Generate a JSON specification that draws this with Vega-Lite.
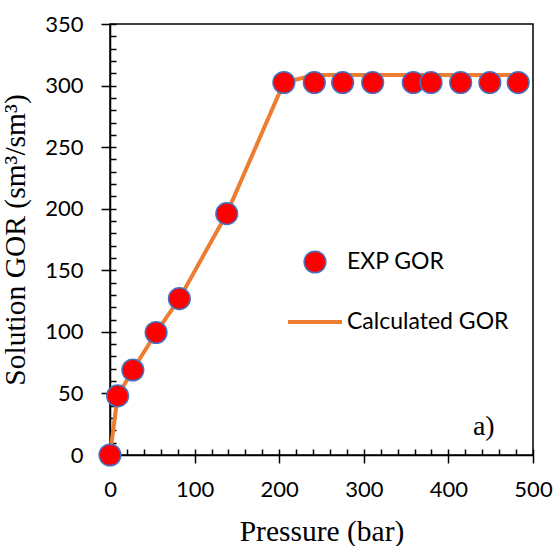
{
  "$schema": "https://vega.github.io/schema/vega-lite/v6.json",
  "width": 423,
  "height": 431,
  "autosize": "none",
  "padding": {"left": 110, "top": 24, "right": 23, "bottom": 91},
  "background": "white",
  "config": {
    "view": {"stroke": "black", "strokeWidth": 1.5},
    "axis": {
      "domainColor": "black", "domainWidth": 1.5, "ticks": true, "tickColor": "black", "tickWidth": 1.5,
      "labelFont": "Lato", "labelFontSize": 22, "labelColor": "black", "labelFlush": false, "labelOverlap": false,
      "titleFont": "Liberation Serif", "titleFontSize": 29.5, "titleFontWeight": "normal", "titleColor": "black",
      "grid": false
    }
  },
  "datasets": {
    "exp": [
      {"p": 0, "gor": 0, "series": "EXP GOR"},
      {"p": 9, "gor": 48, "series": "EXP GOR"},
      {"p": 27, "gor": 69, "series": "EXP GOR"},
      {"p": 54.5, "gor": 99.5, "series": "EXP GOR"},
      {"p": 82, "gor": 127, "series": "EXP GOR"},
      {"p": 138, "gor": 196, "series": "EXP GOR"},
      {"p": 205.5, "gor": 302.5, "series": "EXP GOR"},
      {"p": 241.5, "gor": 302.5, "series": "EXP GOR"},
      {"p": 275, "gor": 302.5, "series": "EXP GOR"},
      {"p": 310.5, "gor": 302.5, "series": "EXP GOR"},
      {"p": 358.5, "gor": 302.5, "series": "EXP GOR"},
      {"p": 379.5, "gor": 302.5, "series": "EXP GOR"},
      {"p": 414.5, "gor": 302.5, "series": "EXP GOR"},
      {"p": 449, "gor": 302.5, "series": "EXP GOR"},
      {"p": 482.5, "gor": 302.5, "series": "EXP GOR"}
    ],
    "calc": [
      {"p": 0, "gor": 0, "series": "Calculated GOR"},
      {"p": 9, "gor": 48, "series": "Calculated GOR"},
      {"p": 27, "gor": 69, "series": "Calculated GOR"},
      {"p": 54.5, "gor": 99.5, "series": "Calculated GOR"},
      {"p": 82, "gor": 127, "series": "Calculated GOR"},
      {"p": 138, "gor": 196, "series": "Calculated GOR"},
      {"p": 205.5, "gor": 302.5, "series": "Calculated GOR"},
      {"p": 242, "gor": 308.5, "series": "Calculated GOR"},
      {"p": 482.5, "gor": 308.5, "series": "Calculated GOR"}
    ],
    "note": [
      {"p": 429, "gor": 16, "t": "a)"}
    ]
  },
  "layer": [
    {
      "data": {"name": "calc"},
      "mark": {"type": "line", "strokeWidth": 4, "strokeCap": "round"},
      "encoding": {
        "x": {"field": "p", "type": "quantitative", "scale": {"domain": [0, 500], "nice": false},
              "axis": {"title": "Pressure (bar)", "orient": "bottom", "values": [0, 100, 200, 300, 400, 500], "ticks": true, "tickSize": 8, "tickColor": "black", "labelPadding": 16, "titlePadding": 17}},
        "y": {"field": "gor", "type": "quantitative", "scale": {"domain": [0, 350], "nice": false},
              "axis": {"title": "Solution GOR (sm³/sm³)", "orient": "left", "values": [0, 50, 100, 150, 200, 250, 300, 350], "ticks": true, "tickSize": 9, "tickColor": "black", "labelPadding": 18, "titlePadding": 14}},
        "stroke": {"field": "series", "type": "nominal",
                  "scale": {"domain": ["Calculated GOR"], "range": ["#ED7D31"]},
                  "legend": {
                    "title": null, "orient": "none", "legendX": 176, "legendY": 269, "padding": 0,
                    "labelFont": "Lato", "labelFontSize": 23, "labelColor": "black", "labelLimit": 400,
                    "symbolType": "stroke", "symbolSize": 2916, "symbolStrokeWidth": 4, "labelOffset": 3
                  }}
      }
    },
    {
      "data": {"name": "exp"},
      "mark": {"type": "circle", "size": 470, "stroke": "#4472C4", "strokeWidth": 1.5, "opacity": 1},
      "encoding": {
        "x": {"field": "p", "type": "quantitative",
              "axis": {"title": null, "orient": "top", "offset": -431, "domain": false, "labels": false, "ticks": true, "tickSize": 6, "tickColor": "black",
                       "values": [0,20,40,60,80,100,120,140,160,180,200,220,240,260,280,300,320,340,360,380,400,420,440,460,480,500]}},
        "y": {"field": "gor", "type": "quantitative",
              "axis": {"title": null, "orient": "right", "offset": -423, "domain": false, "labels": false, "ticks": true, "tickSize": 6, "tickColor": "black",
                       "values": [0,10,20,30,40,50,60,70,80,90,100,110,120,130,140,150,160,170,180,190,200,210,220,230,240,250,260,270,280,290,300,310,320,330,340,350]}},
        "fill": {"field": "series", "type": "nominal",
                 "scale": {"domain": ["EXP GOR"], "range": ["#FF0000"]},
                 "legend": {
                   "title": null, "orient": "none", "legendX": 193, "legendY": 226, "padding": 0,
                   "labelFont": "Lato", "labelFontSize": 23, "labelColor": "black", "labelLimit": 400,
                   "symbolType": "circle", "symbolSize": 470, "symbolStrokeWidth": 1.5, "symbolStrokeColor": "#4472C4",
                   "symbolOpacity": 1, "labelOffset": 20,
                   "encode": {"symbols": {"update": {"stroke": {"value": "#4472C4"}, "strokeWidth": {"value": 1.5}, "opacity": {"value": 1}}}}
                 }}
      }
    },
    {
      "data": {"name": "note"},
      "mark": {"type": "text", "font": "Liberation Serif", "fontSize": 28, "align": "left", "baseline": "alphabetic", "color": "black"},
      "encoding": {
        "x": {"field": "p", "type": "quantitative", "axis": null},
        "y": {"field": "gor", "type": "quantitative", "axis": null},
        "text": {"field": "t"}
      }
    }
  ],
  "resolve": {"axis": {"x": "independent", "y": "independent"}}
}
